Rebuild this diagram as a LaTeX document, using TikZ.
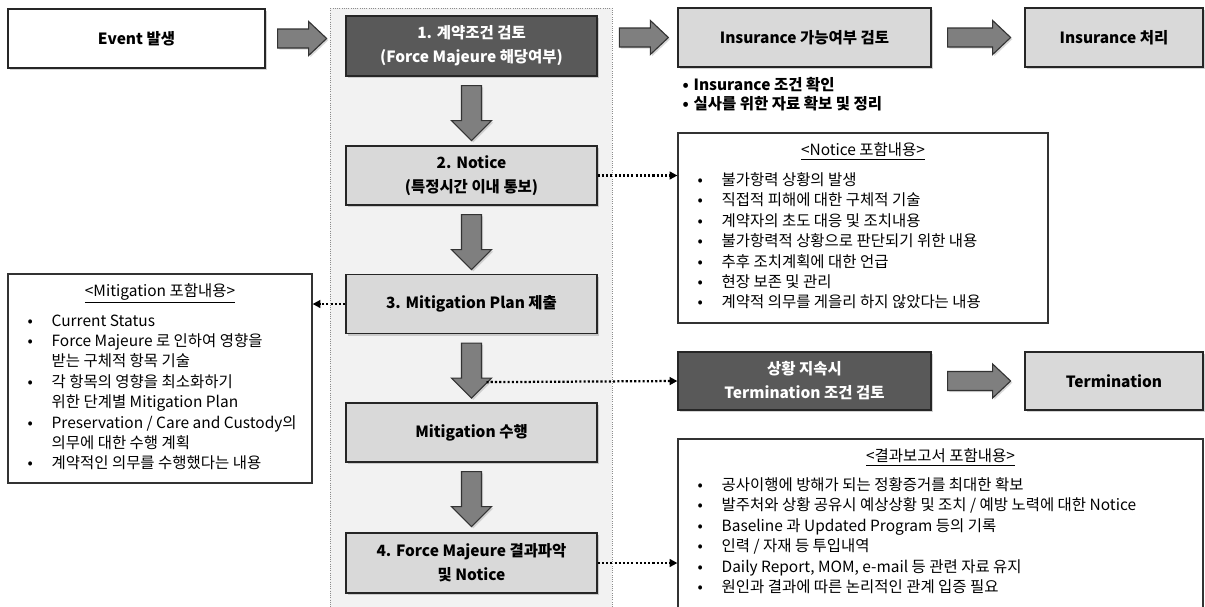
\documentclass[tikz,border=0pt]{standalone}
\usepackage{fontspec}
\setmainfont{Noto Sans CJK KR}
\usetikzlibrary{calc,shadows,arrows.meta}

\definecolor{boxdark}{HTML}{595959}
\definecolor{boxlight}{HTML}{D9D9D9}
\definecolor{arrowgray}{HTML}{7F7F7F}
\definecolor{panelgray}{HTML}{F2F2F2}

\newlength{\pxu}
\setlength{\pxu}{0.025cm}
\newcommand{\bul}{\makebox[24\pxu][l]{•}}
\newcommand{\bulskip}{\hspace*{24\pxu}}
% block arrows: start point, shaft length
\newcommand{\harrow}[2]{\draw[blockarrow] #1 ++(0,-9.5) -- ++(#2,0) -- ++(0,-7.5) -- ++(18,17) -- ++(-18,17) -- ++(0,-7.5) -- ++(-#2,0) -- cycle;}
\newcommand{\varrow}[1]{\draw[blockarrow] #1 ++(-10,0) -- ++(0,35) -- ++(-10,0) -- ++(20,20) -- ++(20,-20) -- ++(-10,0) -- ++(0,-35) -- cycle;}

\tikzset{
    stepbox/.style={draw=black!85, line width=0.9pt, inner sep=0pt,
        minimum width=251\pxu, minimum height=59\pxu, align=center,
        font=\bfseries\fontsize{11}{17}\selectfont,
        drop shadow={shadow xshift=1.6pt, shadow yshift=-1.6pt, opacity=0.35}},
    darkbox/.style={stepbox, fill=boxdark, text=white},
    lightbox/.style={stepbox, fill=boxlight},
    whitebox/.style={stepbox, fill=white},
    infobox/.style={draw=black!80, line width=0.9pt, fill=white, inner sep=0pt},
    infotitle/.style={font=\fontsize{11}{14.5}\selectfont, inner sep=0pt},
    infolist/.style={font=\fontsize{11}{14.5}\selectfont, align=left, inner sep=0pt, anchor=north west},
    blockarrow/.style={fill=arrowgray, draw=black!80, line width=0.8pt,
        drop shadow={shadow xshift=1.2pt, shadow yshift=-1.2pt, opacity=0.3}},
    notearrow/.style={line width=1.6pt, dash pattern=on 1.5pt off 1.5pt,
        -{Triangle[length=5.5pt,width=5.5pt]}},
    panel/.style={fill=panelgray, draw=black!45, densely dotted, line width=0.6pt}
}

\begin{document}
\begin{tikzpicture}[x=0.025cm, y=-0.025cm]
        \useasboundingbox (0,0) rectangle (1205,606);
        \clip (0,0) rectangle (1205,606);

        % main flow panel
        \draw[panel] (330,8) rectangle (612,630);

        \node[whitebox, minimum width=257\pxu] (event) at (136.5,38.5) {Event 발생};
        \node[darkbox, minimum height=60\pxu] (box1) at (471.5,46) {1. 계약조건 검토\\(Force Majeure 해당여부)};
        \node[lightbox] (box2) at (471.5,175.5) {2. Notice\\(특정시간 이내 통보)};
        \node[lightbox] (box3) at (471.5,304) {3. Mitigation Plan 제출};
        \node[lightbox] (exec) at (471.5,432.5) {Mitigation 수행};
        \node[lightbox, minimum height=60\pxu] (box4) at (471.5,563) {4. Force Majeure 결과파악\\및 Notice};

        \node[lightbox, minimum width=253\pxu] (ins1) at (804.5,37.5) {Insurance 가능여부 검토};
        \node[lightbox, minimum width=178\pxu] (ins2) at (1114,37.5) {Insurance 처리};
        \node[darkbox, minimum width=253\pxu, minimum height=58\pxu] (cond) at (804.5,381) {상황 지속시\\Termination 조건 검토};
        \node[lightbox, minimum width=178\pxu, minimum height=58\pxu] (term) at (1114,381) {Termination};

        % block arrows
        \harrow{($(event.east)+(12,0)$)}{31}
        \harrow{($(ins1.west)+(-58,0)$)}{31}
        \harrow{($(ins1.east)+(16,0)$)}{45}
        \harrow{($(cond.east)+(16,0)$)}{45}
        \varrow{($(box1.south)+(0,9)$)}
        \varrow{($(box2.south)+(0,9)$)}
        \varrow{($(box3.south)+(0,9)$)}
        \varrow{($(exec.south)+(0,9)$)}

        % insurance notes
        \node[infolist, font=\bfseries\fontsize{11}{13.5}\selectfont] (insnote) at ($(ins1.south west)+(5,9)$)
            {\makebox[11\pxu][l]{•}Insurance 조건 확인\\\makebox[11\pxu][l]{•}실사를 위한 자료 확보 및 정리};

        % notice contents
        \node[infobox, minimum width=370\pxu, minimum height=190\pxu] (notice) at (863,228) {};
        \node[infotitle] (noticetitle) at ($(notice.north)+(0,19)$) {\underline{<Notice 포함내용>}};
        \node[infolist] (noticelist) at ($(notice.north west)+(20,40)$)
            {\bul 불가항력 상황의 발생\\
             \bul 직접적 피해에 대한 구체적 기술\\
             \bul 계약자의 초도 대응 및 조치내용\\
             \bul 불가항력적 상황으로 판단되기 위한 내용\\
             \bul 추후 조치계획에 대한 언급\\
             \bul 현장 보존 및 관리\\
             \bul 계약적 의무를 게을리 하지 않았다는 내용};

        % mitigation contents
        \node[infobox, minimum width=304\pxu, minimum height=209\pxu] (mitig) at (160,378.5) {};
        \node[infotitle] (mitigtitle) at ($(mitig.north)+(0,20)$) {\underline{<Mitigation 포함내용>}};
        \node[infolist] (mitiglist) at ($(mitig.north west)+(20,41)$)
            {\bul Current Status\\
             \bul Force Majeure 로 인하여 영향을\\
             \bulskip 받는 구체적 항목 기술\\
             \bul 각 항목의 영향을 최소화하기\\
             \bulskip 위한 단계별 Mitigation Plan\\
             \bul Preservation / Care and Custody의\\
             \bulskip 의무에 대한 수행 계획\\
             \bul 계약적인 의무를 수행했다는 내용};

        % report contents
        \node[infobox, minimum width=525\pxu, minimum height=190\pxu] (report) at (940.5,534) {};
        \node[infotitle] (reporttitle) at ($(report.north)+(0,19)$) {\underline{<결과보고서 포함내용>}};
        \node[infolist] (reportlist) at ($(report.north west)+(20,39)$)
            {\bul 공사이행에 방해가 되는 정황증거를 최대한 확보\\
             \bul 발주처와 상황 공유시 예상상황 및 조치 / 예방 노력에 대한 Notice\\
             \bul Baseline 과 Updated Program 등의 기록\\
             \bul 인력 / 자재 등 투입내역\\
             \bul Daily Report, MOM, e-mail 등 관련 자료 유지\\
             \bul 원인과 결과에 따른 논리적인 관계 입증 필요};

        % dotted links
        \coordinate (tap) at ($(box3.south)+(15,48)$);
        \draw[notearrow] (box2.east) -- (box2.east -| notice.west);
        \draw[notearrow] (box3.west) -- (box3.west -| mitig.east);
        \draw[notearrow] (tap) -- (cond.west);
        \draw[notearrow] (box4.east) -- (box4.east -| report.west);
    \end{tikzpicture}
\end{document}
